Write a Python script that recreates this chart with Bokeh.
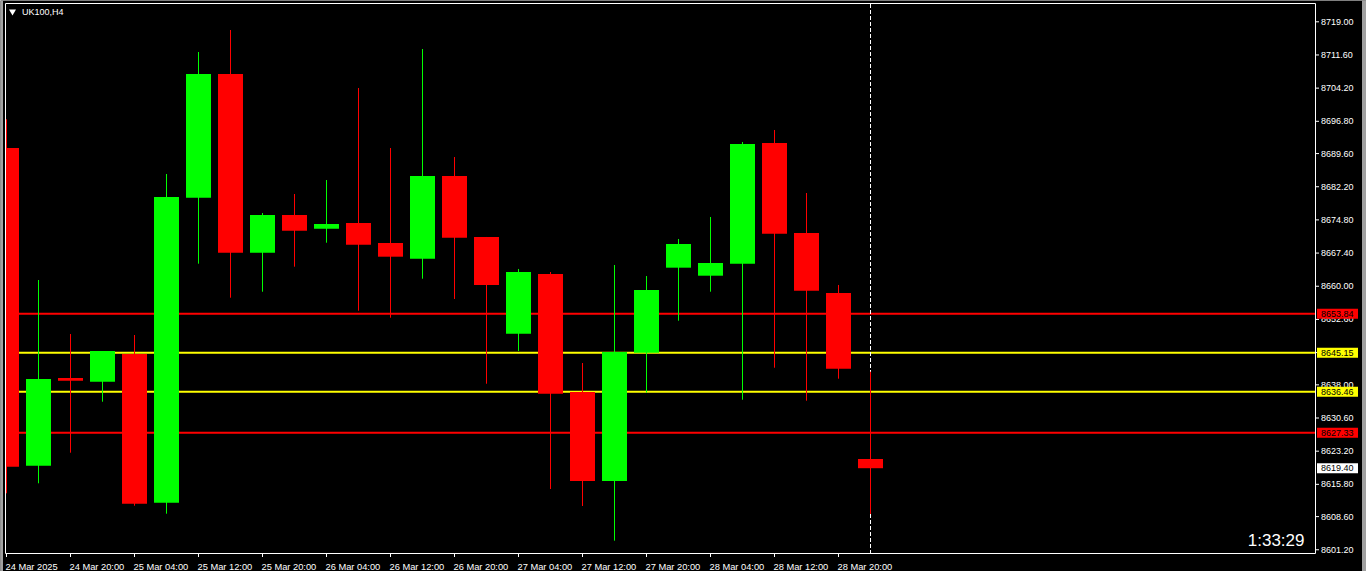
from bokeh.plotting import figure
from bokeh.models import ColumnDataSource, Range1d
from bokeh.embed import file_html
from bokeh.resources import INLINE
from bokeh.core.properties import value

# ---------------- data ----------------
symbol = "UK100,H4"
timer_text = "1:33:29"

x_tick_index = [0, 2, 4, 6, 8, 10, 12, 14, 16, 18, 20, 22, 24, 26]
x_tick_labels = ["24 Mar 2025", "24 Mar 20:00", "25 Mar 04:00", "25 Mar 12:00",
                 "25 Mar 20:00", "26 Mar 04:00", "26 Mar 12:00", "26 Mar 20:00",
                 "27 Mar 04:00", "27 Mar 12:00", "27 Mar 20:00", "28 Mar 04:00",
                 "28 Mar 12:00", "28 Mar 20:00"]

opens = [8690.84, 8619.96, 8639.53, 8638.70, 8644.88, 8611.70, 8679.75, 8707.35,
         8667.48, 8675.89, 8672.84, 8674.11, 8669.65, 8666.14, 8684.60, 8670.99,
         8649.41, 8662.73, 8636.40, 8616.55, 8645.17, 8664.14, 8662.35, 8665.03,
         8691.96, 8671.88, 8658.49, 8621.45]
highs = [8697.25, 8661.39, 8649.34, 8645.55, 8649.12, 8685.04, 8712.26, 8717.17,
         8676.34, 8680.58, 8683.70, 8704.23, 8690.84, 8712.93, 8688.83, 8670.99,
         8663.85, 8663.18, 8642.87, 8664.74, 8662.28, 8670.54, 8675.45, 8692.18,
         8694.86, 8680.80, 8660.28, 8640.93]
lows = [8613.80, 8616.03, 8622.86, 8634.24, 8611.03, 8609.25, 8665.03, 8657.44,
        8658.78, 8664.36, 8669.71, 8654.54, 8652.98, 8661.68, 8657.15, 8638.25,
        8645.55, 8614.76, 8610.97, 8603.23, 8636.25, 8652.31, 8658.78, 8634.68,
        8641.82, 8634.46, 8639.37, 8609.18]
closes = [8619.74, 8639.30, 8638.92, 8645.55, 8611.48, 8679.91, 8707.35, 8667.48,
          8675.89, 8672.39, 8673.89, 8669.27, 8666.59, 8684.60, 8670.83, 8660.28,
          8663.18, 8636.02, 8616.55, 8645.33, 8659.16, 8669.42, 8665.18, 8691.74,
          8671.72, 8659.00, 8641.60, 8619.40]

red_levels = [8653.84, 8627.33]
yellow_levels = [8645.15, 8636.46]
last_price = 8619.40

y_ticks = [8601.20, 8608.60, 8615.80, 8623.20, 8630.60, 8638.00, 8645.20, 8652.60,
           8660.00, 8667.40, 8674.80, 8682.20, 8689.60, 8696.80, 8704.20, 8711.60,
           8719.00]

# ---------------- layout (pixel geometry of the terminal window) ----------------
W, H = 1366, 571
BAR_PX = 32.0            # pixels per bar
K = 4.482                # pixels per price point
D = -0.5                 # pixel-snapping compensation
XS = -(6.5 + D) / BAR_PX
XE = XS + W / BAR_PX
YE = y_ticks[-1] + (21.8 + D) / K
YS = YE - H / K

FR_L, FR_R, FR_T, FR_B = 5.5, 1315.5, 3.5, 553.5   # chart frame lines
BODY_PX = 25.0

GREEN = "#00FF00"
RED = "#FF0000"
YELLOW = "#FFFF00"
FONT = "Liberation Sans"


def X(px):
    return XS + (px + D) / BAR_PX


def Y(py):
    return YE - (py + D) / K


p = figure(width=W, height=H, x_range=Range1d(XS, XE), y_range=Range1d(YS, YE),
           x_axis_type=None, y_axis_type=None, output_backend="svg",
           toolbar_location=None, title=None, background_fill_color="black",
           border_fill_color="black", min_border=0, outline_line_color=None)

# window side strips
p.quad(left=[X(0), X(1362)], right=[X(3), X(W)], top=[Y(0), Y(0)], bottom=[Y(H), Y(H)],
       fill_color="#A0A0A0", line_color=None)

# chart frame
p.quad(left=[X(FR_L)], right=[X(FR_R)], top=[Y(FR_T)], bottom=[Y(FR_B)],
       fill_color=None, line_color="white", line_width=1)

# horizontal levels (behind candles)
lv_all = red_levels + yellow_levels
lv_col = [RED] * len(red_levels) + [YELLOW] * len(yellow_levels)
p.segment(x0=[X(FR_L + 0.5)] * len(lv_all), x1=[X(FR_R - 0.5)] * len(lv_all),
          y0=lv_all, y1=lv_all, line_color=lv_col, line_width=2)

idx = list(range(len(opens)))

# current bar dashed line
p.segment(x0=[idx[-1]], x1=[idx[-1]], y0=[Y(FR_T + 0.5)], y1=[Y(FR_B - 0.5)],
          line_color="white", line_width=1, line_dash="4 2")

# candles
colors = [GREEN if c >= o else RED for o, c in zip(opens, closes)]
half = BODY_PX / 2 / BAR_PX
src = ColumnDataSource(dict(
    x=idx, high=highs, low=lows,
    left=[max(i - half, X(FR_L + 0.5)) for i in idx],
    right=[i + half for i in idx],
    top=[max(o, c) for o, c in zip(opens, closes)],
    bottom=[min(o, c) for o, c in zip(opens, closes)],
    color=colors,
))
p.segment(x0="x", y0="low", x1="x", y1="high", line_color="color", line_width=1, source=src)
p.quad(left="left", right="right", top="top", bottom="bottom", fill_color="color",
       line_color=None, source=src)

# price scale (right)
p.segment(x0=[X(FR_R + 0.5)] * len(y_ticks), x1=[X(FR_R + 3.5)] * len(y_ticks),
          y0=y_ticks, y1=y_ticks, line_color="white", line_width=1)
p.text(x=[X(1321)] * len(y_ticks), y=y_ticks, text=[f"{v:.2f}" for v in y_ticks],
       text_font=value(FONT), text_font_size=value("9px"), text_color="white",
       text_align="left", text_baseline="middle")

# time scale (bottom)
p.segment(x0=x_tick_index, x1=x_tick_index, y0=[Y(FR_B + 0.5)] * len(x_tick_index),
          y1=[Y(FR_B + 3.5)] * len(x_tick_index), line_color="white", line_width=1)
p.text(x=[max(i - 1.0 / BAR_PX, X(FR_L)) for i in x_tick_index],
       y=[Y(566.5)] * len(x_tick_index), text=x_tick_labels,
       text_font=value(FONT), text_font_size=value("9.3px"), text_color="white",
       text_align="left", text_baseline="alphabetic")

# price tags
tags = red_levels + yellow_levels + [last_price]
tag_col = [RED] * len(red_levels) + [YELLOW] * len(yellow_levels) + ["#FFFFFF"]
p.quad(left=[X(FR_R + 1.5)] * len(tags), right=[X(1358)] * len(tags),
       top=[t + 5.0 / K for t in tags], bottom=[t - 5.0 / K for t in tags],
       fill_color=tag_col, line_color=None)
p.text(x=[X(1321)] * len(tags), y=tags, text=[f"{t:.2f}" for t in tags],
       text_font=value(FONT), text_font_size=value("9px"), text_color="black",
       text_align="left", text_baseline="middle")

# symbol title
p.scatter(x=[X(12.5)], y=[Y(11.5)], marker="inverted_triangle", size=7,
          fill_color="white", line_color=None)
p.text(x=[X(22)], y=[Y(11.5)], text=[symbol], text_font=value(FONT),
       text_font_size=value("9px"), text_color="white", text_align="left",
       text_baseline="middle")

# countdown timer
p.text(x=[X(1304.5)], y=[Y(540.5)], text=[timer_text], text_font=value(FONT),
       text_font_size=value("17px"), text_color="white", text_align="right",
       text_baseline="alphabetic")

open("out.html", "w").write(file_html(p, INLINE))
